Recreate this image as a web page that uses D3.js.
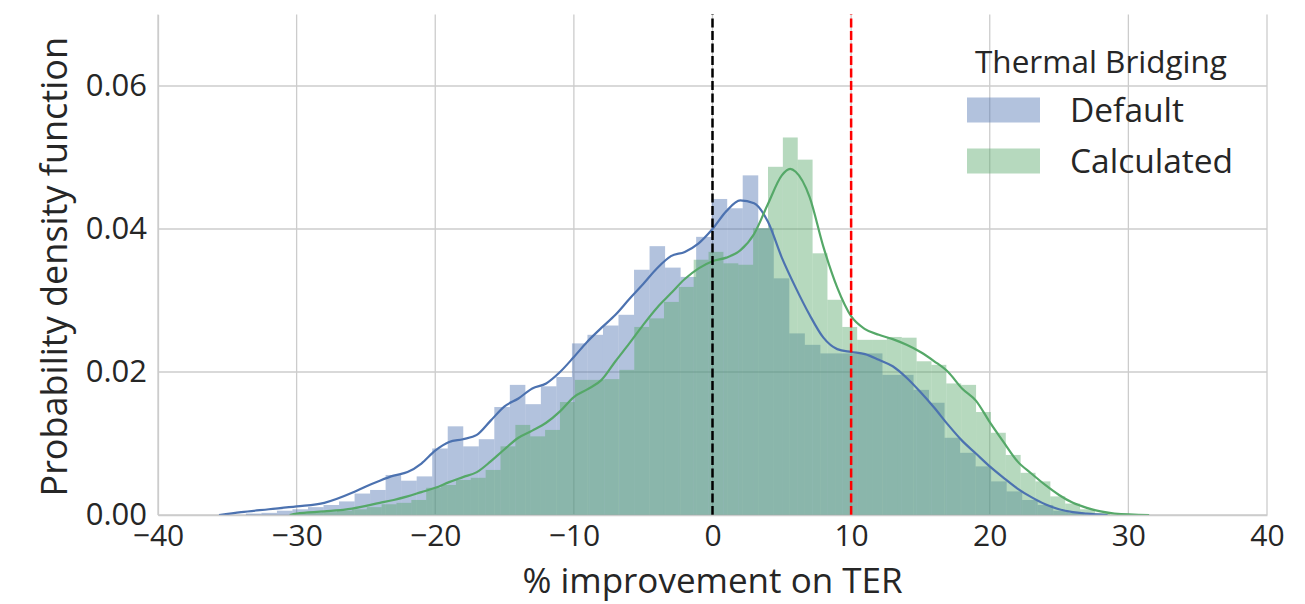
<!DOCTYPE html>
<html>
<head>
<meta charset="utf-8">
<script src="https://cdn.jsdelivr.net/npm/d3@7"></script>
<style>
  html, body { margin: 0; padding: 0; background: #fff; }
  svg text { font-family: "Open Sans", "Noto Sans", sans-serif; fill: #262626; }
</style>
</head>
<body>
<div id="chart"></div>
<script>
// ---- data ----
const xTicks = [-40, -30, -20, -10, 0, 10, 20, 30, 40];
const yTicks = [0, 0.02, 0.04, 0.06];
const refLines = [0, 10];

const seriesNames = ['Default', 'Calculated'];

// histogram bins: left edge of first bin, bin width, densities
const defaultBinStart = -33.66;
const defaultBinWidth = 1.12;
const defaultHist = [
    0.0002, 0.0003, 0.0006, 0.0008, 0.0011, 0.0014, 0.0019, 0.0030, 0.0035, 0.0056,
    0.0048, 0.0054, 0.0093, 0.0124, 0.0096, 0.0106, 0.0151, 0.0182, 0.0155, 0.0180,
    0.0193, 0.0240, 0.0252, 0.0265, 0.0280, 0.0343, 0.0376, 0.0346, 0.0333, 0.0389,
    0.0442, 0.0429, 0.0475, 0.0401, 0.0331, 0.0254, 0.0238, 0.0226, 0.0226, 0.0226,
    0.0226, 0.0196, 0.0196, 0.0175, 0.0157, 0.0108, 0.0087, 0.0068, 0.0047, 0.0033,
    0.0021, 0.0014, 0.0006, 0.0003
];

const calculatedBinStart = -30.3;
const calculatedBinWidth = 1.072;
const calculatedHist = [
    0.0002, 0.0003, 0.0004, 0.0006, 0.0008, 0.0011, 0.0015, 0.0017, 0.0021, 0.0038,
    0.0042, 0.0049, 0.0052, 0.0063, 0.0096, 0.0126, 0.0110, 0.0119, 0.0158, 0.0189,
    0.0189, 0.0190, 0.0203, 0.0263, 0.0275, 0.0298, 0.0319, 0.0357, 0.0368, 0.0352,
    0.0350, 0.0401, 0.0487, 0.0528, 0.0497, 0.0366, 0.0301, 0.0263, 0.0245, 0.0245,
    0.0249, 0.0248, 0.0215, 0.0210, 0.0184, 0.0182, 0.0144, 0.0115, 0.0084, 0.0059,
    0.0047, 0.0026, 0.0016, 0.0008, 0.0003
];

// kde curves [x, density]
const defaultKde = [
    [-35.6, 0], [-34, 0.0004], [-32, 0.0008], [-30, 0.0012], [-28, 0.0017],
    [-26, 0.0031], [-25, 0.0040], [-24, 0.0048], [-23, 0.0055], [-22, 0.0060],
    [-21, 0.0072], [-20, 0.0090], [-19, 0.0102], [-18, 0.0106], [-17, 0.0112],
    [-16, 0.0132], [-15, 0.0152], [-14, 0.0163], [-13, 0.0177], [-12, 0.0184],
    [-11, 0.0200], [-10, 0.0221], [-9, 0.0243], [-8, 0.0262], [-7, 0.0280],
    [-6, 0.0302], [-5, 0.0323], [-4, 0.0345], [-3, 0.0362], [-2, 0.0368],
    [-1, 0.0380], [0, 0.0400], [1, 0.0425], [2, 0.0440], [3, 0.0436],
    [4, 0.0410], [5, 0.0360], [6, 0.0318], [7, 0.0280], [8, 0.0248],
    [9, 0.0232], [10, 0.0228], [11, 0.0225], [12, 0.0217], [13, 0.0208],
    [14, 0.0192], [15, 0.0172], [16, 0.0150], [17, 0.0126], [18, 0.0104],
    [19, 0.0086], [20, 0.0068], [21, 0.0052], [22, 0.0037], [23, 0.0025],
    [24, 0.0015], [25, 0.0008], [26, 0.0004], [27, 0.0002], [28.5, 0]
];

const calculatedKde = [
    [-30.5, 0], [-30, 0.0002], [-28, 0.0005], [-26, 0.0009], [-24, 0.0017],
    [-23, 0.0021], [-22, 0.0026], [-21, 0.0032], [-20, 0.0038], [-19, 0.0046],
    [-18, 0.0053], [-17, 0.0060], [-16, 0.0075], [-15, 0.0092], [-14, 0.0108],
    [-13, 0.0118], [-12, 0.0129], [-11, 0.0145], [-10, 0.0165], [-9, 0.0176],
    [-8, 0.0189], [-7, 0.0215], [-6, 0.0240], [-5, 0.0266], [-4, 0.0290],
    [-3, 0.0310], [-2, 0.0330], [-1, 0.0345], [0, 0.0355], [1, 0.0360],
    [2, 0.0370], [3, 0.0393], [4, 0.0435], [5, 0.0475], [5.6, 0.0484],
    [6, 0.0480], [7, 0.0445], [8, 0.0375], [9, 0.0318], [10, 0.0278],
    [11, 0.0260], [12, 0.0252], [13, 0.0246], [14, 0.0238], [15, 0.0228],
    [16, 0.0215], [17, 0.0200], [18, 0.0177], [19, 0.0160], [20, 0.0130],
    [21, 0.0102], [22, 0.0075], [23, 0.0058], [24, 0.0042], [25, 0.0028],
    [26, 0.0017], [27, 0.0010], [28, 0.0005], [29, 0.0002], [31.5, 0]
];

// ---- chart ----
const W = 1305, H = 604;
const margin = { top: 14.5, right: 38, bottom: 89, left: 158 };
const colors = ['#4C72B0', '#55A868'];
const fmtY = d3.format('.2f');
const fmtX = d => d3.format('d')(d).replace('-', '\u2212');

const svg = d3.select('#chart').append('svg')
    .attr('width', W)
    .attr('height', H);

const x = d3.scaleLinear()
    .domain([-40, 40])
    .range([margin.left, W - margin.right]);

const y = d3.scaleLinear()
    .domain([0, 0.07])
    .range([H - margin.bottom, margin.top]);

// grid
svg.append('g')
    .selectAll('line')
    .data(xTicks)
    .join('line')
    .attr('x1', d => x(d)).attr('x2', d => x(d))
    .attr('y1', y(0)).attr('y2', y(0.07))
    .attr('stroke', '#cccccc')
    .attr('stroke-width', 1.3);

svg.append('g')
    .selectAll('line')
    .data(yTicks)
    .join('line')
    .attr('x1', x(-40)).attr('x2', x(40))
    .attr('y1', d => y(d)).attr('y2', d => y(d))
    .attr('stroke', '#cccccc')
    .attr('stroke-width', 1.3);

function toBins(start, width, values) {
    return values.map((v, i) => ({ x0: start + i * width, x1: start + (i + 1) * width, v }));
}

const line = d3.line()
    .x(d => x(d[0]))
    .y(d => y(d[1]))
    .curve(d3.curveMonotoneX);

const series = [
    { name: seriesNames[0], bins: toBins(defaultBinStart, defaultBinWidth, defaultHist), kde: defaultKde, color: colors[0] },
    { name: seriesNames[1], bins: toBins(calculatedBinStart, calculatedBinWidth, calculatedHist), kde: calculatedKde, color: colors[1] }
];

// bars first, then the kde lines on top
series.forEach(s => {
    svg.append('g')
        .selectAll('rect')
        .data(s.bins)
        .join('rect')
        .attr('x', d => x(d.x0))
        .attr('width', d => x(d.x1) - x(d.x0))
        .attr('y', d => y(d.v))
        .attr('height', d => y(0) - y(d.v))
        .attr('fill', s.color)
        .attr('fill-opacity', 0.43);
});

series.forEach(s => {
    svg.append('path')
        .datum(s.kde)
        .attr('fill', 'none')
        .attr('stroke', s.color)
        .attr('stroke-width', 2.2)
        .attr('d', line);
});

// reference lines
svg.append('g')
    .selectAll('line')
    .data(refLines)
    .join('line')
    .attr('x1', d => x(d)).attr('x2', d => x(d))
    .attr('y1', y(0)).attr('y2', y(0.07))
    .attr('stroke', (d, i) => i === 0 ? '#000000' : '#ff0000')
    .attr('stroke-width', 2.5)
    .attr('stroke-dasharray', '9,3.5');

// axes
const xAxis = svg.append('g')
    .attr('transform', `translate(0, ${y(0)})`)
    .call(d3.axisBottom(x).tickValues(xTicks).tickFormat(fmtX).tickSize(0).tickPadding(10));
xAxis.select('.domain').attr('stroke', '#cccccc').attr('stroke-width', 1.3);
xAxis.selectAll('text').attr('font-size', 30).attr('fill', '#262626');

const yAxis = svg.append('g')
    .attr('transform', `translate(${x(-40)}, 0)`)
    .call(d3.axisLeft(y).tickValues(yTicks).tickFormat(fmtY).tickSize(0).tickPadding(11));
yAxis.select('.domain').attr('stroke', '#cccccc').attr('stroke-width', 1.3);
yAxis.selectAll('text').attr('font-size', 31).attr('fill', '#262626');

svg.append('text')
    .attr('x', x(0))
    .attr('y', 593)
    .attr('text-anchor', 'middle')
    .attr('font-size', 35)
    .text('% improvement on TER');

svg.append('text')
    .attr('transform', `translate(67, ${(y(0) + y(0.07)) / 2 + 2}) rotate(-90)`)
    .attr('text-anchor', 'middle')
    .attr('font-size', 36)
    .text('Probability density function');

// legend
const legend = svg.append('g').attr('transform', 'translate(967, 0)');
legend.append('text')
    .attr('x', 134)
    .attr('y', 73)
    .attr('text-anchor', 'middle')
    .attr('font-size', 31.5)
    .text('Thermal Bridging');

const entry = legend.selectAll('g.entry')
    .data(series)
    .join('g')
    .attr('class', 'entry')
    .attr('transform', (d, i) => `translate(0, ${97.5 + i * 51})`);
entry.append('rect')
    .attr('width', 73)
    .attr('height', 25)
    .attr('fill', d => d.color)
    .attr('fill-opacity', 0.43);
entry.append('text')
    .attr('x', 103)
    .attr('y', 24)
    .attr('font-size', 33.5)
    .text(d => d.name);
</script>
</body>
</html>
